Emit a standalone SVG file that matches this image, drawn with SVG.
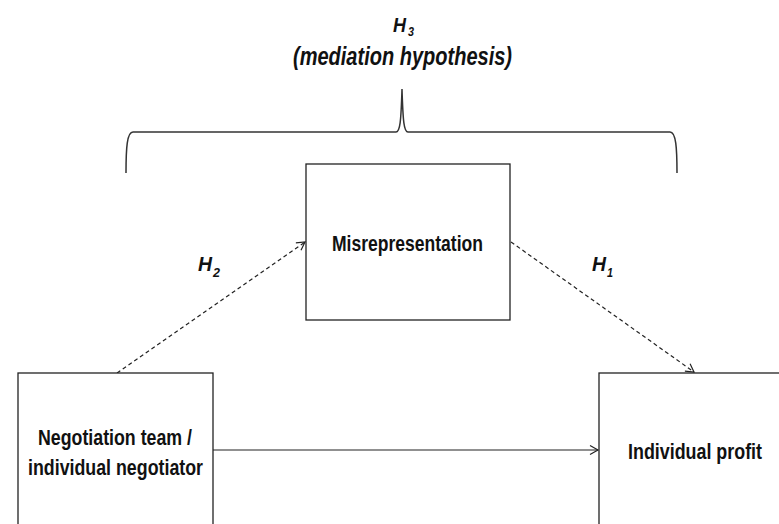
<svg xmlns="http://www.w3.org/2000/svg" width="779" height="524" viewBox="0 0 779 524">
<style>
.box{fill:#fff;stroke:#222;stroke-width:1.3}
.lbl{font-family:"Liberation Sans",Arial,sans-serif;font-weight:bold;font-size:22px;fill:#111}
.hyp{font-family:"Liberation Sans",Arial,sans-serif;font-weight:bold;font-style:italic;fill:#111}
.conn{fill:none;stroke:#222;stroke-width:1.2}
.dash{stroke-dasharray:4 3}
.brace{fill:none;stroke:#333;stroke-width:1.5}
</style>
<defs>
<marker id="arr" markerUnits="userSpaceOnUse" markerWidth="12" markerHeight="12" refX="9" refY="5" orient="auto" viewBox="0 0 12 10">
<path d="M1,0.5 L9,5 L1,9.5" fill="none" stroke="#222" stroke-width="1.2"/>
</marker>
</defs>
<g id="connectors">
<line class="conn" x1="213" y1="450" x2="598" y2="450" marker-end="url(#arr)"/>
<line class="conn dash" x1="117" y1="373" x2="305" y2="242" marker-end="url(#arr)"/>
<line class="conn dash" x1="511" y1="242" x2="694" y2="372" marker-end="url(#arr)"/>
</g>
<g id="brace">
<path class="brace" d="M126,173 C126,148 127,132 133,132 L396,132 C400,132 401,122 402,89 C403,122 404,132 408,132 L670,132 C676,132 677,148 677,173"/>
</g>
<g id="h3-label">
<text class="hyp" x="393" y="32" font-size="21" textLength="13" lengthAdjust="spacingAndGlyphs">H</text>
<text class="hyp" x="408" y="36" font-size="13" textLength="6" lengthAdjust="spacingAndGlyphs">3</text>
<text class="hyp" x="293" y="65" font-size="25" textLength="219" lengthAdjust="spacingAndGlyphs">(mediation hypothesis)</text>
</g>
<g id="h2-label">
<text class="hyp" x="198" y="271" font-size="21" textLength="14" lengthAdjust="spacingAndGlyphs">H</text>
<text class="hyp" x="213" y="277" font-size="13" textLength="7" lengthAdjust="spacingAndGlyphs">2</text>
</g>
<g id="h1-label">
<text class="hyp" x="592" y="271" font-size="21" textLength="14" lengthAdjust="spacingAndGlyphs">H</text>
<text class="hyp" x="607" y="277" font-size="13" textLength="6" lengthAdjust="spacingAndGlyphs">1</text>
</g>
<g id="misrepresentation">
<rect class="box" x="306" y="164" width="204" height="156"/>
<text class="lbl" x="332" y="251" font-size="23" textLength="151" lengthAdjust="spacingAndGlyphs">Misrepresentation</text>
</g>
<g id="negotiation-team">
<rect class="box" x="18" y="373" width="195" height="200"/>
<text class="lbl" x="38" y="445" textLength="154" lengthAdjust="spacingAndGlyphs">Negotiation team /</text>
<text class="lbl" x="28" y="475" textLength="175" lengthAdjust="spacingAndGlyphs">individual negotiator</text>
</g>
<g id="individual-profit">
<rect class="box" x="599" y="373" width="200" height="200"/>
<text class="lbl" x="628" y="459" textLength="134" lengthAdjust="spacingAndGlyphs">Individual profit</text>
</g>
</svg>
